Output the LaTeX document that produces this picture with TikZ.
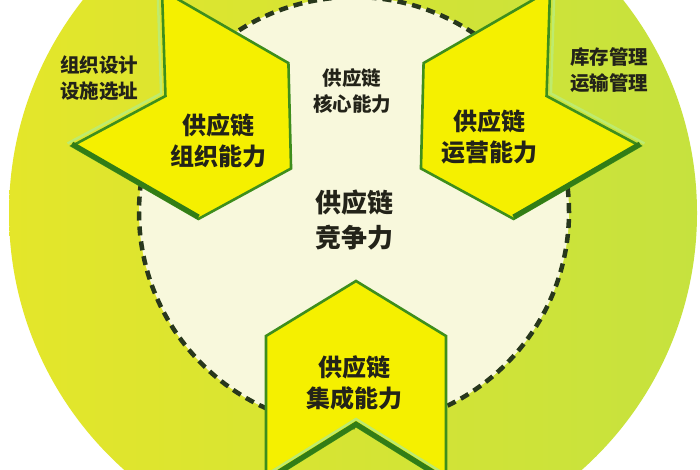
\documentclass[tikz,border=0pt]{standalone}
\usepackage{fontspec}
\newfontfamily\cjk{Noto Sans CJK SC}
\definecolor{outerL}{RGB}{228,230,42}
\definecolor{outerR}{RGB}{198,226,62}
\definecolor{innerfill}{RGB}{248,248,220}
\definecolor{chevfill}{RGB}{245,240,0}
\definecolor{chevline}{RGB}{62,142,28}
\definecolor{shadowline}{RGB}{50,125,22}
\definecolor{highlight}{RGB}{190,235,110}
\definecolor{dashcol}{RGB}{40,55,28}
\definecolor{txt}{RGB}{35,35,25}
\begin{document}
\begin{tikzpicture}[x=1pt,y=-1pt,
  chev/.style={fill=chevfill,draw=chevline,line width=2.6pt,line join=miter},
  shadowedge/.style={draw=shadowline,line width=5pt,line cap=butt,line join=miter},
  lightedge/.style={draw=highlight,line width=2.5pt,line join=miter},
  maintext/.style={text=txt,font=\cjk\bfseries\fontsize{24}{31}\selectfont,align=center,inner sep=0pt},
  bigtext/.style={text=txt,font=\cjk\bfseries\fontsize{26}{35}\selectfont,align=center,inner sep=0pt},
  smalltext/.style={text=txt,font=\cjk\bfseries\fontsize{19.5}{26}\selectfont,align=center,inner sep=0pt}]
\useasboundingbox (0,0) rectangle (700,470);
\clip (0,0) rectangle (700,470);
\fill[white] (0,0) rectangle (700,470);
% outer disc
\shade[left color=outerL,right color=outerR] (353,213) circle (344pt);
% inner disc
\fill[innerfill] (354,212) circle (215pt);
\draw[dashcol,line width=4.5pt,dash pattern=on 9pt off 6pt] (354,212) circle (215pt);
% top-left chevron
\coordinate (tlTip) at (291.05,168.5);
\coordinate (tlSB) at (198.42,218.94);
\coordinate (tlTB) at (71.98,145.94);
\coordinate (tlN) at (165.47,96);
\coordinate (tlTA) at (161.98,-9.94);
\coordinate (tlSA) at (288.42,63.06);
\draw[lightedge] ([shift={(-4.4,-2.5)}]tlTA) -- ([shift={(-4.4,-2.5)}]tlN) -- ([shift={(-4.4,-2.5)}]tlTB);
\draw[chev] (tlTip) -- (tlSB) -- (tlTB) -- (tlN) -- (tlTA) -- (tlSA) -- cycle;
\draw[shadowedge] ([yshift=2pt]tlTB) -- ([yshift=2pt]tlSB);
% top-right chevron
\coordinate (trTip) at (420.95,168.5);
\coordinate (trSB) at (513.58,218.94);
\coordinate (trTB) at (640.02,145.94);
\coordinate (trN) at (546.53,96);
\coordinate (trTA) at (550.02,-9.94);
\coordinate (trSA) at (423.58,63.06);
\draw[lightedge] ([shift={(4.4,-2.5)}]trTA) -- ([shift={(4.4,-2.5)}]trN) -- ([shift={(4.4,-2.5)}]trTB);
\draw[chev] (trTip) -- (trSB) -- (trTB) -- (trN) -- (trTA) -- (trSA) -- cycle;
\draw[shadowedge] ([yshift=2pt]trSB) -- ([yshift=2pt]trTB);
% bottom chevron
\coordinate (bTip) at (356,281);
\coordinate (bSL) at (266,336);
\coordinate (bTL) at (266,482);
\coordinate (bN) at (356,426);
\coordinate (bTR) at (446,482);
\coordinate (bSR) at (446,336);
\draw[chev] (bTip) -- (bSL) -- (bTL) -- (bN) -- (bTR) -- (bSR) -- cycle;
\draw[lightedge] ([yshift=7pt]bTL) -- ([yshift=7pt]bN) -- ([yshift=7pt]bTR);
\draw[shadowedge] ([yshift=2pt]bTL) -- ([yshift=2pt]bN) -- ([yshift=2pt]bTR);
% labels
\node[smalltext] (tlside) at (99,78) {组织设计\\设施选址};
\node[smalltext] (trside) at (609,70) {库存管理\\运输管理};
\node[smalltext] (core) at (352,91) {供应链\\核心能力};
\node[maintext] (tlmain) at (218,141) {供应链\\组织能力};
\node[maintext] (trmain) at (489,137) {供应链\\运营能力};
\node[bigtext] (center) at (354,220) {供应链\\竞争力};
\node[maintext] (bmain) at (354,383) {供应链\\集成能力};
\end{tikzpicture}
\end{document}
